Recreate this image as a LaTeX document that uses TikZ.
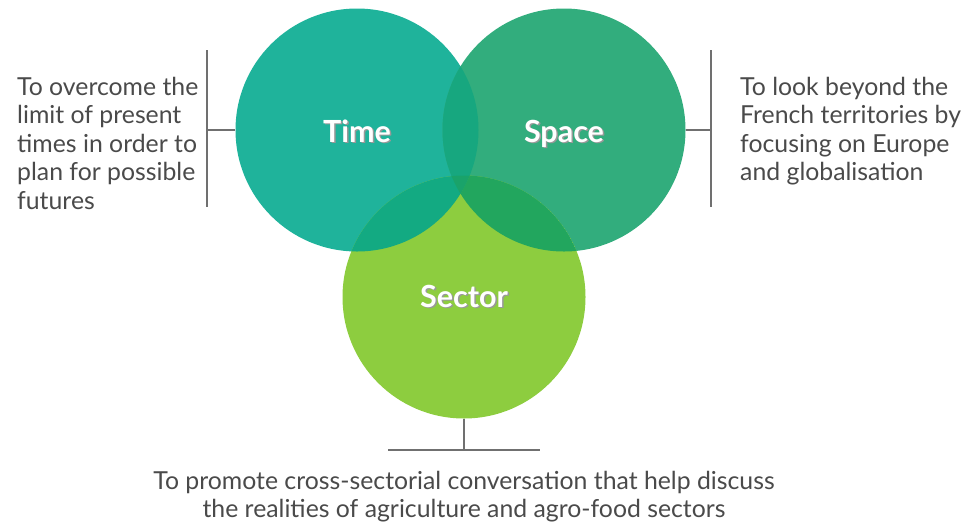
\documentclass[tikz,border=0pt]{standalone}
\usepackage{fontspec}
\setmainfont{Lato}
\usetikzlibrary{positioning}
\usetikzlibrary{calc}

\definecolor{timecol}{HTML}{1FB39B}
\definecolor{spacecol}{HTML}{32AD7D}
\definecolor{sectorcol}{HTML}{8DCD3F}
\definecolor{tscol}{HTML}{17A77F}
\definecolor{tecol}{HTML}{13AA82}
\definecolor{secol}{HTML}{22A65E}
\definecolor{allcol}{HTML}{1AA36A}
\definecolor{txtcol}{HTML}{4A4A4A}
\definecolor{barcol}{HTML}{707070}

\newcommand{\shadowlabel}[1]{%
  \makebox[0pt][l]{\raisebox{-1.5pt}{\hspace{1.5pt}\textcolor{black!40}{#1}}}#1}

\begin{document}
\begin{tikzpicture}[x=1pt,y=-1pt,
  vnode/.style={circle,inner sep=0pt,minimum size=243pt},
  lnode/.style={text=white,anchor=base,font=\fontsize{30.5}{36}\bfseries\selectfont},
  dnode/.style={text=txtcol,inner sep=0pt,font=\fontsize{24.8}{28.5}\selectfont},
  bar/.style={draw=barcol,line width=1.3pt}]
		\useasboundingbox (0,0) rectangle (961,523);
		\node[vnode,fill=timecol] (time) at (357,130){};
		\node[vnode,fill=spacecol] (space) at (564,130){};
		\node[vnode,fill=sectorcol] (sector) at (464,297){};
		% overlaps
		\begin{scope}
			\clip (time.center) circle (121.5);
			\fill[tscol] (space.center) circle (121.5);
			\fill[tecol] (sector.center) circle (121.5);
			\clip (space.center) circle (121.5);
			\fill[allcol] (sector.center) circle (121.5);
		\end{scope}
		\begin{scope}
			\clip (space.center) circle (121.5);
			\clip (sector.center) circle (121.5);
			\clip (-10,-10) rectangle (980,540) (time.center) circle (121.5);
			\fill[secol] (sector.center) circle (121.5);
		\end{scope}
		\node[lnode] (timel) at (357,142){\shadowlabel{Time}};
		\node[lnode] (spacel) at (564,142){\shadowlabel{Space}};
		\node[lnode] (sectorl) at (464,307){\shadowlabel{Sector}};
		% bars
		\coordinate (lbar) at (207,130);
		\coordinate (rbar) at (711,130);
		\coordinate (bbar) at (464,450);
		\draw[bar] ($(lbar)+(0,-80)$) -- ($(lbar)+(0,77)$);
		\draw[bar] (time.west) -- (lbar);
		\draw[bar] ($(rbar)+(0,-80)$) -- ($(rbar)+(0,77)$);
		\draw[bar] (space.east) -- (rbar);
		\draw[bar] ($(bbar)+(-76,0)$) -- ($(bbar)+(76,0)$);
		\draw[bar] (sector.south) -- (bbar);
		% texts
		\node[dnode,align=left,anchor=north west] (timet) at (17,77){To overcome the\\limit of present\\times in order to\\plan for possible\\futures};
		\node[dnode,align=left,anchor=north west] (spacet) at (740,77){To look beyond the\\French territories by\\focusing on Europe\\and globalisation};
		\node[dnode,align=center,anchor=north] (sectort) at (464,471){To promote cross-sectorial conversation that help discuss\\the realities of agriculture and agro-food sectors};
	\end{tikzpicture}
\end{document}
